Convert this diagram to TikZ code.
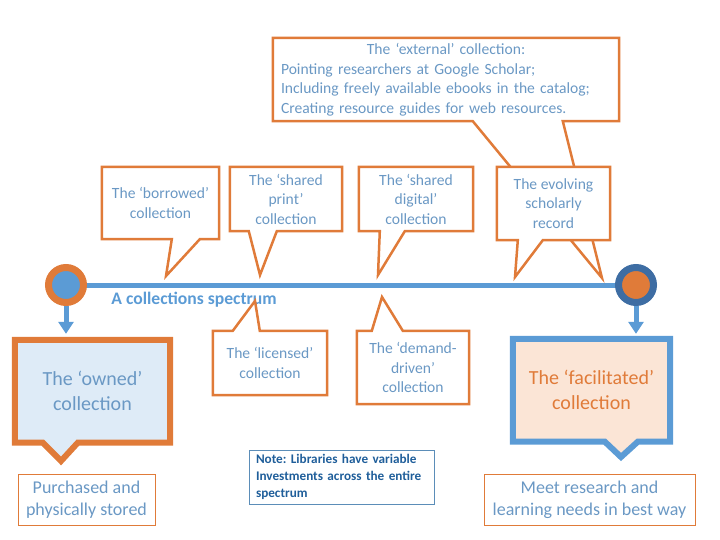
\documentclass[tikz,border=0pt]{standalone}
\usepackage{fontspec}
\setmainfont{Carlito}
\usepackage{tikz}
\usetikzlibrary{arrows.meta,calc,backgrounds}
\definecolor{corange}{HTML}{E07B39}
\definecolor{cblue}{HTML}{5B9BD5}
\definecolor{cdark}{HTML}{3E6DA3}
\definecolor{ctext}{HTML}{6A98C4}
\definecolor{cnote}{HTML}{1F5E9A}
\definecolor{cnoteline}{HTML}{5B8DB8}
\definecolor{cownfill}{HTML}{DEEBF7}
\definecolor{cfacfill}{HTML}{FBE5D6}
\frenchspacing

\begin{document}
\begin{tikzpicture}[x=1pt,y=-1pt,
  txt/.style={align=center,text=ctext,font=\fontsize{15.6}{19.5}\selectfont,inner sep=0pt},
  co/.style={draw=corange,line width=2.5pt,line join=miter},
  big/.style={line width=6pt,line join=miter},
  bigtxt/.style={align=center,font=\fontsize{20}{25}\selectfont,inner sep=0pt,minimum width=157,minimum height=102.5},
  tag/.style={draw=corange,line width=0.8pt,align=center,text=ctext,font=\fontsize{18}{22}\selectfont,inner sep=0pt,minimum height=51},
  dot/.style={circle,line width=7pt,minimum size=35,inner sep=0pt},
  arr/.style={draw=cblue,line width=5pt,-{Triangle[width=15pt,length=12pt]}}]
\useasboundingbox (0,0) rectangle (720,540);
% ends of the spectrum
\node[dot,draw=corange,fill=cblue] (lc) at (66,285) {};
\node[dot,draw=cdark,fill=corange] (rc) at (636,285) {};
\node[font=\fontsize{17.6}{20}\selectfont\bfseries,text=cblue,inner sep=0pt] (spec) at (194,300) {A collections spectrum};
% top callouts
\node[txt,minimum width=346,minimum height=83,text width=330,align=left] (external) at (446,79.5) {\makebox[\linewidth]{The ‘external’ collection:}\\Pointing researchers at Google Scholar;\\Including freely available ebooks in the catalog;\\Creating resource guides for web resources.};
\draw[co] (external.south west) -- ++(200,0) -- (602,278) -- ($(external.south west)+(290,0)$) -- (external.south east) -- (external.north east) -- (external.north west) -- cycle;
\node[txt,minimum width=117,minimum height=72] (borrowed) at (160.5,203) {The ‘borrowed’\\collection};
\draw[co] (borrowed.south west) -- ++(70,0) -- (166,276) -- ($(borrowed.south west)+(98,0)$) -- (borrowed.south east) -- (borrowed.north east) -- (borrowed.north west) -- cycle;
\node[txt,minimum width=112,minimum height=64] (print) at (286,199) {The ‘shared\\print’\\collection};
\draw[co] (print.south west) -- ++(19,0) -- (260,275) -- ($(print.south west)+(47,0)$) -- (print.south east) -- (print.north east) -- (print.north west) -- cycle;
\node[txt,minimum width=114,minimum height=64] (digital) at (416,199) {The ‘shared\\digital’\\collection};
\draw[co] (digital.south west) -- ++(21,0) -- (378,275) -- ($(digital.south west)+(46,0)$) -- (digital.south east) -- (digital.north east) -- (digital.north west) -- cycle;
\node[txt,fill=white,minimum width=113,minimum height=73] (evolving) at (553.5,203.5) {The evolving\\scholarly\\record};
\draw[co] (evolving.south west) -- ++(21,0) -- (515,277) -- ($(evolving.south west)+(46,0)$) -- (evolving.south east) -- (evolving.north east) -- (evolving.north west) -- cycle;
% lower callouts
\node[txt,minimum width=114,minimum height=64] (licensed) at (270,363) {The ‘licensed’\\collection};
\draw[co] (licensed.north west) -- ++(20,0) -- (255,301) -- ($(licensed.north west)+(47,0)$) -- (licensed.north east) -- (licensed.south east) -- (licensed.south west) -- cycle;
\node[txt,minimum width=112,minimum height=73] (demand) at (413,367.5) {The ‘demand-\\driven’\\collection};
\draw[co] (demand.north west) -- ++(15,0) -- (382,297) -- ($(demand.north west)+(46,0)$) -- (demand.north east) -- (demand.south east) -- (demand.south west) -- cycle;
% the two ends
\node[bigtxt,text=ctext,minimum width=155] (owned) at (92.5,391.25) {The ‘owned’\\collection};
\node[bigtxt,text=corange] (facil) at (591.5,390.25) {The ‘facilitated’\\collection};
\node[tag,minimum width=137] (purchased) at (86.5,499.5) {Purchased and\\physically stored};
\node[tag,minimum width=211] (meet) at (589.5,499.5) {Meet research and\\learning needs in best way};
\node[draw=cnoteline,line width=0.8pt,text=cnote,font=\fontsize{13.2}{17}\selectfont\bfseries,align=left,text width=171,inner xsep=7pt,inner ysep=0pt,minimum height=54] (note) at (341.5,477) {Note: Libraries have variable\\Investments across the entire\\spectrum};
\draw[arr,shorten >=6pt] (lc.south) -- (lc.south |- owned.north);
\draw[arr,shorten >=5pt] (rc.south) -- (rc.south |- facil.north);
\begin{scope}[on background layer]
\draw[cblue,line width=5pt] (lc.center) -- (rc.center);
\draw[big,draw=corange,fill=cownfill] (owned.south west) -- ++(28,0) -- (61,461) -- ($(owned.south west)+(63,0)$) -- (owned.south east) -- (owned.north east) -- (owned.north west) -- cycle;
\draw[big,draw=cblue,fill=cfacfill] (facil.south west) -- ++(92,0) -- (621,457) -- ($(facil.south west)+(125,0)$) -- (facil.south east) -- (facil.north east) -- (facil.north west) -- cycle;
\end{scope}
\end{tikzpicture}
\end{document}
